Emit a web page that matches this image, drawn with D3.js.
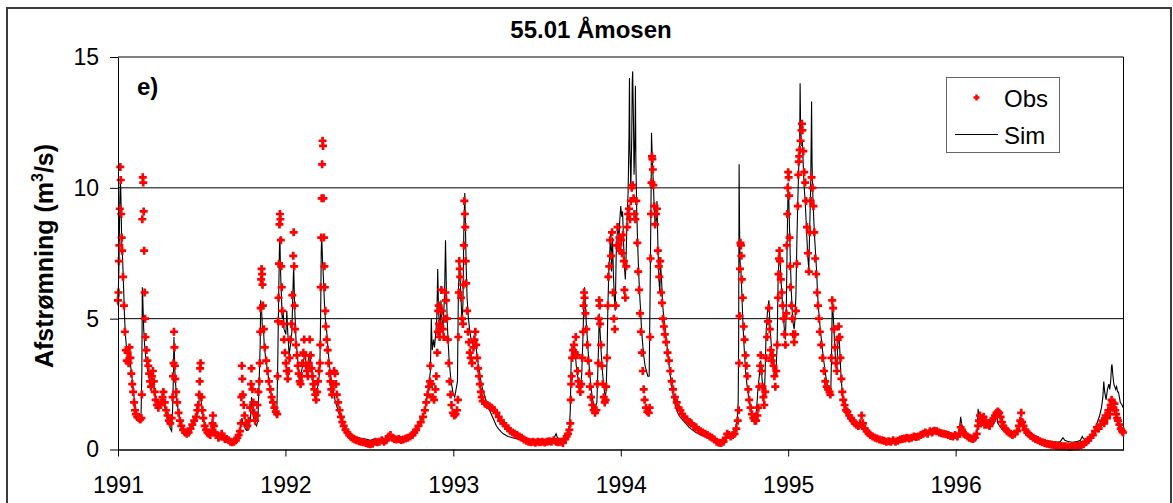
<!DOCTYPE html>
<html>
<head>
<meta charset="utf-8">
<script src="https://cdn.jsdelivr.net/npm/d3@7"></script>
<style>
  body { margin: 0; background: #fff; }
  svg text { font-family: Arial, "Liberation Sans", sans-serif; }
</style>
</head>
<body>
<svg id="chart" width="1173" height="503"></svg>
<script>
// Daglige værdier aflæst af figuren: [dag siden 1991-01-01, afstrømning m3/s]
const obs1991 = [[0,5.7],[1,6.0],[2,7.2],[3,7.8],[4,9.2],[5,10.8],[6,10.3],[7,9.0],[8,8.1],[9,7.6],[11,6.6],[13,5.5],[15,4.5],[17,3.8],[19,3.4],[21,3.7],[23,3.3],[25,3.9],[27,3.5],[29,2.9],[31,2.5],[33,2.2],[35,1.8],[37,1.5],[39,1.35],[42,1.25],[45,1.2],[48,1.15],[51,1.2],[52,2.1],[53,8.8],[54,10.4],[55,10.2],[56,9.1],[57,7.6],[58,6.0],[59,5.0],[60,4.3],[62,3.8],[64,3.4],[66,3.2],[68,2.9],[70,2.6],[72,2.4],[74,2.8],[76,3.0],[78,2.6],[80,2.2],[82,1.9],[85,1.7],[88,1.6],[91,1.7],[94,1.8],[97,2.0],[99,2.2],[102,1.8],[105,1.5],[108,1.3],[111,1.1],[114,1.0],[117,1.2],[119,2.0],[120,2.8],[121,3.3],[122,4.5],[123,3.9],[124,3.2],[125,2.7],[127,2.2],[129,1.8],[132,1.4],[135,1.1],[138,0.9],[142,0.75],[146,0.65],[150,0.6],[154,0.65],[158,0.8],[162,0.95],[166,1.1],[170,1.25],[173,1.5],[175,1.7],[177,2.1],[178,2.6],[179,3.1],[180,3.3],[182,2.0],[184,1.5],[186,1.2],[189,0.9],[192,0.75],[195,0.65],[198,0.6],[201,0.55],[204,0.7],[206,1.0],[207,1.3],[209,0.9],[212,0.65],[215,0.55],[219,0.45],[223,0.5],[226,0.6],[229,0.5],[233,0.4],[237,0.4],[241,0.35],[245,0.3],[249,0.28],[253,0.3],[257,0.35],[260,0.45],[263,0.55],[266,0.7],[268,1.0],[269,2.0],[270,3.2],[271,2.7],[272,2.1],[274,1.7],[276,1.3],[279,1.0],[282,0.9],[285,1.1],[288,1.6],[290,2.5],[291,3.1],[293,2.3],[295,1.8],[297,1.4],[299,1.1],[302,1.3],[304,1.7],[306,2.2],[308,2.6],[309,3.3],[310,4.5],[311,5.4],[312,6.5],[313,6.9],[314,6.7],[315,6.3],[316,5.5],[318,4.6],[320,3.9],[323,3.4],[326,3.0],[329,2.6],[332,2.3],[335,2.0],[338,1.8],[341,1.6],[344,1.45],[347,1.35],[348,2.8],[349,4.9],[350,5.8],[351,7.1],[352,8.6],[353,9.0],[354,8.8],[355,8.0],[356,7.0],[357,6.2],[358,5.3],[360,4.8],[362,4.2],[364,3.7]];
const obs1992 = [[366,3.3],[368,3.0],[370,2.7],[372,3.0],[374,3.5],[376,4.2],[378,4.8],[380,5.9],[382,7.4],[383,8.3],[384,7.0],[385,5.5],[386,4.6],[388,4.0],[390,3.6],[392,3.2],[394,2.9],[396,2.6],[398,2.5],[400,2.8],[402,3.3],[404,3.7],[406,4.2],[408,3.6],[410,3.2],[412,3.0],[414,2.8],[416,3.3],[418,4.2],[420,3.6],[422,3.1],[424,2.8],[426,2.5],[428,2.3],[430,2.1],[432,1.9],[434,2.2],[436,2.6],[438,3.0],[440,3.3],[441,4.0],[442,6.2],[443,8.1],[444,9.6],[445,10.9],[446,11.8],[447,11.6],[448,9.6],[449,8.1],[450,7.0],[451,6.2],[452,5.3],[453,4.7],[455,4.2],[457,3.8],[459,3.3],[461,2.9],[463,2.6],[465,2.3],[467,2.1],[469,2.5],[471,3.0],[473,2.9],[475,2.5],[477,2.1],[480,1.8],[483,1.5],[486,1.25],[489,1.05],[492,0.9],[496,0.75],[500,0.65],[504,0.55],[508,0.48],[512,0.42],[516,0.38],[520,0.35],[525,0.32],[530,0.3],[535,0.28],[540,0.25],[545,0.22],[550,0.2],[555,0.22],[560,0.3],[565,0.28],[570,0.3],[575,0.35],[580,0.3],[585,0.35],[590,0.5],[594,0.55],[598,0.45],[602,0.4],[607,0.38],[612,0.4],[617,0.36],[622,0.38],[627,0.42],[632,0.45],[637,0.5],[642,0.55],[646,0.65],[650,0.75],[655,0.9],[660,1.05],[665,1.25],[669,1.5],[672,1.8],[675,2.1],[678,2.4],[680,2.6],[681,3.2],[683,2.5],[686,2.0],[689,1.9],[692,2.3],[694,2.8],[696,3.7],[697,4.5],[698,5.3],[699,5.5],[700,4.8],[701,4.3],[703,4.7],[705,6.1],[706,5.3],[708,4.6],[710,4.3],[712,5.0],[714,6.0],[715,5.7],[717,5.0],[719,4.2],[721,3.3],[723,2.6],[725,2.1],[727,1.7],[730,1.4]];
const obs1993 = [[733,1.3],[736,1.35],[739,1.5],[741,1.9],[742,4.3],[743,6.0],[744,7.2],[745,6.9],[746,6.6],[748,5.8],[750,5.0],[752,4.8],[753,6.3],[754,7.8],[755,9.5],[756,9.0],[757,8.5],[758,7.2],[759,6.35],[761,5.3],[763,4.5],[765,4.1],[767,3.7],[769,3.5],[772,3.3],[775,3.9],[777,4.2],[779,4.5],[781,4.0],[783,3.5],[785,3.1],[787,2.8],[789,2.5],[791,2.2],[793,2.0],[795,1.85],[800,1.75],[805,1.7],[810,1.65],[815,1.6],[820,1.5],[825,1.4],[830,1.25],[835,1.1],[840,1.0],[845,0.9],[850,0.8],[855,0.72],[860,0.65],[865,0.6],[870,0.55],[875,0.5],[880,0.45],[885,0.38],[890,0.33],[895,0.3],[900,0.28],[905,0.3],[910,0.26],[915,0.3],[920,0.28],[925,0.3],[930,0.27],[935,0.3],[940,0.32],[945,0.3],[950,0.35],[955,0.3],[960,0.28],[965,0.3],[970,0.25],[975,0.4],[978,0.5],[981,0.6],[984,0.75],[986,1.0],[987,1.9],[988,2.5],[989,2.8],[990,3.5],[992,3.8],[994,4.0],[996,3.7],[998,4.3],[1000,3.6],[1002,3.0],[1004,2.6],[1006,2.4],[1008,2.2],[1010,2.5],[1012,3.5],[1014,4.5],[1015,5.5],[1016,6.0],[1017,5.8],[1019,5.2],[1021,4.6],[1023,4.0],[1025,3.4],[1027,2.9],[1029,2.4],[1031,2.0],[1034,1.7],[1037,1.5],[1040,1.4],[1043,1.5],[1045,2.5],[1047,3.3],[1048,5.0],[1049,5.7],[1050,5.5],[1051,4.8],[1053,4.0],[1055,3.2],[1057,2.5],[1059,2.0],[1061,1.8],[1063,1.9],[1064,2.4],[1066,3.5],[1068,5.5],[1069,6.6],[1071,7.0],[1073,8.0],[1075,7.4],[1077,8.3],[1079,6.0],[1081,5.0],[1083,4.6],[1085,5.5],[1087,7.8],[1089,8.5],[1091,7.8],[1093,8.1],[1095,7.6]];
const obs1994 = [[1097,8.0],[1099,7.5],[1101,8.2],[1103,7.2],[1104,6.1],[1106,5.8],[1108,7.0],[1110,8.5],[1112,9.0],[1114,9.2],[1116,8.8],[1118,9.5],[1120,10.0],[1122,10.1],[1124,9.6],[1126,9.0],[1128,8.8],[1130,9.5],[1132,7.9],[1134,6.8],[1136,6.1],[1138,5.2],[1140,4.5],[1142,3.7],[1144,3.0],[1146,2.3],[1148,1.9],[1151,1.6],[1154,1.45],[1157,1.4],[1159,1.6],[1160,4.3],[1161,7.3],[1162,9.0],[1163,10.2],[1164,11.2],[1165,11.1],[1166,10.7],[1167,10.1],[1169,9.3],[1171,8.6],[1173,9.0],[1175,9.2],[1177,7.6],[1179,7.0],[1180,6.6],[1182,7.2],[1184,6.0],[1186,5.6],[1188,5.0],[1190,4.7],[1192,4.4],[1195,4.1],[1198,3.7],[1201,3.4],[1204,3.0],[1207,2.6],[1210,2.3],[1214,2.0],[1218,1.8],[1222,1.6],[1226,1.5],[1230,1.35],[1235,1.25],[1240,1.15],[1245,1.05],[1250,1.0],[1255,0.9],[1260,0.85],[1265,0.75],[1270,0.7],[1275,0.65],[1280,0.6],[1285,0.55],[1290,0.5],[1295,0.45],[1300,0.38],[1305,0.3],[1310,0.26],[1315,0.25],[1320,0.3],[1325,0.45],[1328,0.6],[1332,0.55],[1336,0.5],[1340,0.55],[1344,0.6],[1348,0.8],[1351,1.1],[1353,1.5],[1354,3.3],[1355,5.1],[1356,6.9],[1357,7.9],[1358,7.8],[1359,7.4],[1360,6.5],[1362,5.8],[1364,4.7],[1366,4.2],[1368,3.6],[1370,3.2],[1372,2.8],[1374,2.3],[1376,1.9],[1379,1.6],[1382,1.35],[1385,1.2],[1388,1.1],[1391,1.1],[1394,1.3],[1396,1.6],[1398,2.4],[1400,3.2],[1401,3.6],[1403,3.0],[1405,2.4],[1407,2.0],[1409,1.7],[1411,2.2],[1413,3.5],[1415,4.3],[1417,4.9],[1419,5.4],[1421,4.6],[1423,3.8],[1425,3.4],[1427,3.6],[1429,3.2],[1431,2.8],[1433,2.4],[1435,3.0],[1437,4.0],[1439,5.8],[1440,6.7],[1441,7.3],[1442,7.6],[1443,7.2],[1445,6.5],[1447,6.0],[1449,5.5],[1451,5.0],[1453,4.4],[1455,4.0],[1457,5.2],[1458,7.8],[1459,9.0],[1460,10.0]];
const obs1995 = [[1461,10.6],[1462,10.4],[1463,9.7],[1464,8.1],[1465,7.0],[1466,6.2],[1468,5.5],[1470,5.0],[1472,4.4],[1474,4.1],[1476,4.4],[1478,5.3],[1480,7.1],[1482,9.3],[1483,10.5],[1484,11.0],[1485,11.2],[1486,11.45],[1488,11.8],[1490,12.2],[1491,12.45],[1492,12.2],[1494,11.4],[1496,10.6],[1498,10.2],[1500,9.5],[1502,8.5],[1504,7.5],[1506,6.8],[1508,8.3],[1510,9.5],[1512,10.4],[1514,10.0],[1516,9.3],[1518,8.3],[1520,7.3],[1522,6.7],[1524,6.0],[1526,5.5],[1528,5.0],[1530,4.5],[1533,4.0],[1536,3.5],[1539,3.0],[1542,2.6],[1545,2.4],[1548,2.3],[1551,2.2],[1553,2.1],[1555,3.5],[1557,5.7],[1559,5.4],[1561,4.6],[1563,3.9],[1565,3.3],[1567,3.0],[1569,4.2],[1571,4.7],[1573,4.3],[1575,3.5],[1577,2.7],[1579,2.2],[1581,1.9],[1584,1.7],[1587,1.5],[1590,1.45],[1594,1.3],[1598,1.2],[1602,1.1],[1606,1.0],[1610,0.95],[1614,0.9],[1618,1.0],[1621,1.3],[1624,1.0],[1628,0.8],[1632,0.7],[1636,0.62],[1640,0.55],[1645,0.5],[1650,0.45],[1655,0.42],[1660,0.38],[1665,0.35],[1670,0.33],[1675,0.3],[1680,0.32],[1685,0.3],[1690,0.35],[1695,0.3],[1700,0.33],[1705,0.38],[1710,0.4],[1715,0.42],[1720,0.45],[1725,0.42],[1730,0.45],[1735,0.5],[1740,0.48],[1745,0.5],[1750,0.55],[1755,0.6],[1760,0.65],[1765,0.6],[1770,0.7],[1775,0.65],[1780,0.72],[1785,0.7],[1790,0.65],[1795,0.62],[1800,0.6],[1805,0.58],[1810,0.55],[1815,0.52],[1820,0.5],[1825,0.55]];
const obs1996 = [[1830,0.5],[1834,0.6],[1837,0.85],[1840,0.75],[1844,0.6],[1848,0.55],[1852,0.5],[1856,0.45],[1860,0.42],[1864,0.4],[1868,0.45],[1872,0.6],[1875,0.9],[1877,1.1],[1879,1.3],[1881,1.0],[1883,1.2],[1885,1.05],[1887,1.25],[1889,0.95],[1891,1.1],[1894,0.95],[1897,1.0],[1900,0.9],[1903,1.05],[1906,1.1],[1909,1.2],[1912,1.3],[1915,1.4],[1918,1.45],[1921,1.4],[1924,1.25],[1927,1.05],[1930,0.9],[1934,0.8],[1938,0.7],[1942,0.65],[1946,0.6],[1950,0.55],[1955,0.6],[1960,0.7],[1964,0.9],[1967,1.1],[1969,1.4],[1971,1.05],[1974,0.9],[1978,0.75],[1982,0.65],[1986,0.58],[1990,0.52],[1995,0.45],[2000,0.4],[2005,0.36],[2010,0.32],[2015,0.28],[2020,0.25],[2025,0.22],[2030,0.2],[2035,0.18],[2040,0.17],[2045,0.15],[2050,0.14],[2055,0.13],[2060,0.12],[2065,0.12],[2070,0.11],[2075,0.1],[2080,0.11],[2085,0.12],[2090,0.13],[2095,0.15],[2100,0.17],[2105,0.2],[2110,0.28],[2115,0.35],[2120,0.45],[2125,0.55],[2130,0.7],[2134,0.85],[2138,0.8],[2142,0.95],[2146,1.1],[2150,1.0],[2153,1.3],[2156,1.2],[2159,1.5],[2162,1.35],[2164,1.7],[2166,1.9],[2168,1.8],[2170,1.6],[2172,1.75],[2174,1.5],[2176,1.35],[2178,1.2],[2180,1.1],[2183,0.95],[2186,0.8],[2189,0.7],[2191,0.65]];

const sim1991 = [[0,5.5],[2,7.0],[4,9.5],[5,10.2],[6,10.0],[8,8.0],[10,7.3],[12,6.3],[14,5.2],[16,4.4],[18,4.0],[20,3.8],[23,3.6],[26,3.4],[29,3.0],[32,2.5],[35,2.0],[38,1.6],[41,1.35],[44,1.2],[47,1.1],[50,1.05],[52,3.0],[53,6.2],[54,5.8],[56,4.6],[58,4.0],[60,3.6],[63,3.2],[66,2.9],[69,2.6],[72,2.3],[75,2.5],[77,2.6],[80,2.1],[84,1.8],[88,1.6],[92,1.7],[96,1.9],[99,2.0],[102,1.6],[106,1.3],[110,1.0],[114,0.8],[117,0.7],[119,1.5],[121,3.0],[122,4.3],[124,3.0],[126,2.4],[128,2.0],[131,1.5],[134,1.2],[138,0.9],[142,0.75],[146,0.62],[150,0.58],[155,0.62],[160,0.75],[165,0.95],[170,1.15],[175,1.5],[178,2.2],[180,2.0],[183,1.6],[186,1.2],[190,0.9],[195,0.7],[200,0.6],[205,0.7],[207,1.0],[210,0.8],[215,0.6],[220,0.5],[226,0.5],[232,0.42],[238,0.38],[244,0.33],[250,0.3],[256,0.32],[262,0.45],[266,0.7],[268,1.0],[270,1.2],[273,1.0],[276,0.85],[280,0.72],[285,0.75],[289,1.2],[291,2.0],[294,1.4],[298,1.0],[302,0.9],[305,1.1],[308,2.8],[310,4.0],[311,5.7],[313,5.4],[315,4.5],[317,4.7],[319,3.9],[322,3.5],[326,3.0],[330,2.5],[334,2.1],[338,1.7],[342,1.4],[346,1.2],[348,3.0],[350,5.5],[352,7.8],[353,8.1],[354,7.0],[356,6.0],[358,5.0],[360,5.3],[362,4.6],[364,4.5]];
const sim1992 = [[366,4.4],[368,5.3],[370,4.5],[373,3.6],[376,4.0],[379,4.5],[382,6.5],[383,7.0],[385,5.5],[388,4.2],[391,3.6],[394,3.0],[397,2.7],[400,3.0],[404,3.3],[407,3.7],[410,3.3],[413,3.0],[417,3.7],[420,3.4],[424,2.8],[428,2.4],[432,2.0],[436,2.5],[440,3.0],[442,5.5],[443,7.5],[444,8.2],[446,7.2],[448,6.5],[450,5.6],[452,5.0],[455,4.5],[458,3.8],[461,3.2],[464,2.8],[467,2.5],[470,2.2],[473,1.9],[476,1.7],[480,1.5],[485,1.2],[490,1.0],[495,0.85],[500,0.75],[505,0.65],[510,0.55],[520,0.48],[530,0.42],[540,0.4],[550,0.35],[560,0.4],[570,0.38],[580,0.35],[590,0.4],[600,0.5],[610,0.45],[620,0.4],[630,0.45],[640,0.55],[650,0.8],[660,1.1],[665,1.25],[670,1.6],[675,2.2],[678,2.5],[681,3.0],[683,5.0],[685,3.8],[688,4.2],[690,3.9],[692,4.3],[695,5.0],[697,6.9],[699,5.2],[702,4.6],[704,5.7],[706,5.0],[708,4.5],[710,5.2],[712,6.0],[714,8.0],[716,6.0],[718,4.8],[720,4.0],[722,3.4],[725,2.8],[728,2.4]];
const sim1993 = [[731,2.1],[734,2.0],[737,2.3],[740,2.6],[742,6.0],[744,7.0],[746,6.5],[748,5.7],[750,4.8],[752,5.6],[754,8.5],[756,9.8],[757,9.0],[759,7.0],[761,5.8],[764,5.0],[767,4.5],[770,4.2],[773,4.0],[776,4.3],[779,4.2],[782,3.7],[785,3.3],[788,3.0],[791,2.6],[795,2.3],[800,2.0],[805,1.7],[810,1.5],[815,1.3],[820,1.1],[825,0.9],[830,0.78],[835,0.68],[840,0.6],[850,0.5],[860,0.45],[870,0.4],[880,0.36],[890,0.35],[900,0.33],[910,0.35],[920,0.34],[930,0.36],[940,0.38],[950,0.42],[955,0.6],[958,0.45],[965,0.4],[975,0.45],[980,0.5],[984,0.8],[986,1.5],[988,3.5],[990,4.0],[993,3.5],[996,3.9],[999,3.2],[1002,2.8],[1005,2.5],[1008,2.3],[1011,2.9],[1014,4.5],[1016,6.0],[1017,6.2],[1019,5.5],[1021,4.8],[1024,4.0],[1027,3.2],[1030,2.6],[1033,2.1],[1036,1.8],[1040,1.6],[1044,1.8],[1046,3.0],[1048,4.2],[1049,5.2],[1051,4.5],[1053,3.8],[1056,3.0],[1059,2.4],[1062,2.0],[1064,2.2],[1066,3.4],[1068,5.5],[1070,6.8],[1072,7.5],[1074,8.3],[1076,6.8],[1078,8.1],[1080,6.7],[1082,5.8],[1084,5.3],[1086,7.4],[1088,8.2],[1090,8.6],[1092,8.0],[1094,8.8]];
const sim1994 = [[1096,9.3],[1098,8.9],[1100,9.1],[1102,8.0],[1104,7.0],[1106,6.5],[1108,7.6],[1110,9.0],[1112,9.8],[1114,12.0],[1115,14.2],[1116,11.5],[1118,10.0],[1120,12.0],[1121,14.0],[1122,14.45],[1124,12.2],[1125,10.5],[1127,12.0],[1128,13.9],[1129,11.0],[1131,9.0],[1133,7.8],[1135,6.8],[1137,6.0],[1139,5.4],[1141,4.7],[1143,4.2],[1146,3.6],[1149,3.2],[1152,3.0],[1155,2.8],[1158,2.8],[1160,6.0],[1162,9.5],[1163,12.1],[1165,11.0],[1167,10.2],[1169,9.2],[1171,8.6],[1173,8.7],[1175,9.5],[1177,7.8],[1179,6.6],[1181,6.0],[1183,7.0],[1185,6.5],[1187,5.6],[1190,5.0],[1193,4.6],[1196,4.1],[1199,3.6],[1202,3.1],[1205,2.7],[1208,2.3],[1212,1.9],[1216,1.6],[1220,1.4],[1225,1.25],[1230,1.15],[1235,1.05],[1240,0.95],[1245,0.85],[1250,0.78],[1260,0.65],[1270,0.55],[1280,0.5],[1290,0.42],[1300,0.35],[1310,0.3],[1320,0.32],[1330,0.5],[1340,0.55],[1346,0.8],[1350,1.2],[1352,1.8],[1353,4.0],[1354,10.9],[1355,8.5],[1356,7.2],[1358,6.8],[1360,6.0],[1362,5.0],[1364,4.2],[1366,3.6],[1368,3.0],[1371,2.5],[1374,2.1],[1377,1.8],[1380,1.5],[1384,1.3],[1388,1.2],[1392,1.5],[1395,2.3],[1398,2.8],[1401,3.4],[1404,2.7],[1407,2.2],[1410,2.5],[1413,4.5],[1416,5.3],[1419,5.7],[1422,4.5],[1425,3.8],[1428,3.5],[1431,3.0],[1434,2.8],[1437,4.0],[1439,6.5],[1441,7.3],[1443,7.5],[1445,6.6],[1447,6.0],[1449,5.5],[1451,5.0],[1453,4.5],[1455,4.2],[1457,5.5],[1459,8.2]];
const sim1995 = [[1461,10.2],[1462,9.8],[1464,8.4],[1466,7.0],[1468,6.0],[1470,5.2],[1472,4.8],[1474,4.6],[1476,5.0],[1478,6.0],[1480,8.0],[1482,9.5],[1484,10.8],[1486,11.5],[1487,14.0],[1488,12.5],[1490,11.6],[1492,11.8],[1494,10.8],[1496,10.0],[1498,9.5],[1500,8.8],[1502,8.0],[1504,7.3],[1506,6.9],[1508,8.5],[1510,10.0],[1511,11.5],[1512,13.3],[1513,11.0],[1515,9.6],[1517,8.7],[1519,8.0],[1521,7.4],[1523,6.8],[1525,6.0],[1527,5.4],[1529,5.0],[1531,4.6],[1534,4.1],[1537,3.6],[1540,3.2],[1543,2.8],[1546,2.5],[1549,2.3],[1552,2.1],[1554,2.3],[1556,4.0],[1557,5.6],[1559,5.2],[1561,4.5],[1563,3.8],[1565,3.2],[1567,3.0],[1569,4.0],[1571,4.4],[1573,4.0],[1575,3.2],[1577,2.6],[1580,2.0],[1584,1.6],[1588,1.4],[1592,1.2],[1596,1.1],[1600,1.0],[1605,0.9],[1610,0.85],[1615,0.8],[1620,0.85],[1625,0.75],[1630,0.65],[1640,0.52],[1650,0.45],[1660,0.4],[1670,0.35],[1680,0.33],[1690,0.33],[1700,0.35],[1710,0.4],[1720,0.45],[1730,0.48],[1740,0.5],[1750,0.55],[1760,0.62],[1768,0.75],[1772,0.7],[1776,0.82],[1780,0.75],[1786,0.8],[1790,0.7],[1800,0.62],[1810,0.58],[1820,0.55]];
const sim1996 = [[1830,0.55],[1834,0.7],[1837,1.25],[1839,1.0],[1842,0.8],[1846,0.7],[1850,0.6],[1856,0.55],[1862,0.5],[1868,0.5],[1872,0.6],[1874,1.0],[1875,1.55],[1877,1.3],[1880,1.0],[1884,0.95],[1888,0.9],[1892,0.85],[1896,0.85],[1900,0.8],[1905,0.9],[1910,1.0],[1913,1.2],[1916,1.3],[1918,1.0],[1922,0.9],[1926,0.8],[1930,0.72],[1936,0.65],[1942,0.6],[1948,0.55],[1955,0.55],[1960,0.65],[1964,0.8],[1967,1.0],[1970,0.9],[1974,0.8],[1980,0.65],[1988,0.55],[1996,0.48],[2004,0.42],[2012,0.38],[2020,0.35],[2030,0.32],[2040,0.3],[2048,0.28],[2054,0.3],[2060,0.45],[2064,0.35],[2072,0.3],[2080,0.28],[2090,0.3],[2098,0.35],[2102,0.5],[2105,0.4],[2110,0.4],[2116,0.45],[2122,0.55],[2128,0.7],[2132,0.9],[2136,1.1],[2140,1.3],[2144,1.6],[2147,2.0],[2149,2.6],[2151,2.2],[2154,1.9],[2157,2.3],[2160,2.5],[2162,2.3],[2164,2.6],[2166,3.2],[2167,3.25],[2169,2.8],[2171,2.5],[2173,2.4],[2175,2.3],[2177,2.4],[2179,2.2],[2181,2.2],[2183,2.0],[2185,1.8],[2187,1.75],[2189,1.7],[2191,1.6]];

const yearTicks = [1991, 1992, 1993, 1994, 1995, 1996];
const yTicks = [0, 5, 10, 15];
const gridValues = [5, 10];

const w = 1173, h = 503;
const plot = { left: 118, right: 1123.5, top: 57, bottom: 449.5 };

const start = new Date(Date.UTC(1991, 0, 1));
function toPoint(p) {
  return { date: d3.utcDay.offset(start, p[0]), q: p[1] };
}
const obs = [].concat(obs1991, obs1992, obs1993, obs1994, obs1995, obs1996).map(toPoint);
const sim = [].concat(sim1991, sim1992, sim1993, sim1994, sim1995, sim1996).map(toPoint);

const svg = d3.select("#chart");

// Ydre ramme
svg.append("rect")
  .attr("x", 7).attr("y", 8)
  .attr("width", 1164).attr("height", 540)
  .attr("fill", "none")
  .attr("stroke", "#3a3a3a")
  .attr("stroke-width", 2);

const xScale = d3.scaleUtc()
  .domain([start, new Date(Date.UTC(1997, 0, 1))])
  .range([plot.left, plot.right]);

const yScale = d3.scaleLinear()
  .domain([0, 15])
  .range([plot.bottom, plot.top]);

// Gitterlinjer
svg.append("g")
  .selectAll("line")
  .data(gridValues)
  .join("line")
  .attr("x1", plot.left).attr("x2", plot.right)
  .attr("y1", d => yScale(d)).attr("y2", d => yScale(d))
  .attr("stroke", "#000")
  .attr("stroke-width", 1);

// Plotområdets kant (top og højre)
svg.append("path")
  .attr("d", `M${plot.left},${yScale(15)}H${plot.right}V${plot.bottom}`)
  .attr("fill", "none")
  .attr("stroke", "#000")
  .attr("stroke-width", 1);

// Simuleret linje
const line = d3.line()
  .x(d => xScale(d.date))
  .y(d => yScale(d.q));

svg.append("path")
  .datum(sim)
  .attr("d", line)
  .attr("fill", "none")
  .attr("stroke", "#000")
  .attr("stroke-width", 1.1);

// Observerede punkter som røde kryds
const cross = "M-4,0H4M0,-4V4";
svg.append("g")
  .selectAll("path")
  .data(obs)
  .join("path")
  .attr("transform", d => `translate(${xScale(d.date)},${yScale(d.q)})`)
  .attr("d", cross)
  .attr("stroke", "#ff0000")
  .attr("stroke-width", 2.7)
  .attr("fill", "none");

// Akser
const xAxis = d3.axisBottom(xScale)
  .tickValues(yearTicks.map(y => new Date(Date.UTC(y, 0, 1))))
  .tickFormat(d3.utcFormat("%Y"))
  .tickSize(7)
  .tickSizeOuter(0)
  .tickPadding(20);

const gx = svg.append("g")
  .attr("transform", `translate(0,${plot.bottom})`)
  .call(xAxis);
gx.select(".domain").attr("stroke-width", 1.6);
gx.selectAll("text").attr("font-size", 23).attr("fill", "#000");
gx.attr("font-family", null);

const yAxis = d3.axisLeft(yScale)
  .tickValues(yTicks)
  .tickSize(8)
  .tickSizeOuter(0)
  .tickPadding(11);

const gy = svg.append("g")
  .attr("transform", `translate(${plot.left},0)`)
  .call(yAxis);
gy.selectAll("text").attr("font-size", 23).attr("fill", "#000");
gy.attr("font-family", null);

// Titel
svg.append("text")
  .attr("x", 591).attr("y", 38)
  .attr("text-anchor", "middle")
  .attr("font-size", 24)
  .attr("font-weight", "bold")
  .text("55.01 Åmosen");

// Panelbogstav
svg.append("text")
  .attr("x", 137).attr("y", 95)
  .attr("font-size", 24)
  .attr("font-weight", "bold")
  .text("e)");

// Y-akse titel
const yLabel = svg.append("text")
  .attr("transform", "translate(53,256) rotate(-90)")
  .attr("text-anchor", "middle")
  .attr("font-size", 25)
  .attr("font-weight", "bold");
yLabel.append("tspan").text("Afstrømning (m");
yLabel.append("tspan").attr("dy", -10).attr("font-size", 16).text("3");
yLabel.append("tspan").attr("dy", 10).text("/s)");

// Legende
const legend = svg.append("g");
legend.append("rect")
  .attr("x", 946.5).attr("y", 77.5)
  .attr("width", 113).attr("height", 75)
  .attr("fill", "#fff")
  .attr("stroke", "#666")
  .attr("stroke-width", 1);
legend.append("path")
  .attr("transform", "translate(976.5,97.5)")
  .attr("d", "M-3,0H3M0,-3V3")
  .attr("stroke", "#ff0000")
  .attr("stroke-width", 2.4);
legend.append("text")
  .attr("x", 1004).attr("y", 106.5)
  .attr("font-size", 24)
  .text("Obs");
legend.append("line")
  .attr("x1", 955).attr("x2", 998)
  .attr("y1", 134.5).attr("y2", 134.5)
  .attr("stroke", "#000")
  .attr("stroke-width", 1);
legend.append("text")
  .attr("x", 1004).attr("y", 143.5)
  .attr("font-size", 24)
  .text("Sim");
</script>
</body>
</html>
